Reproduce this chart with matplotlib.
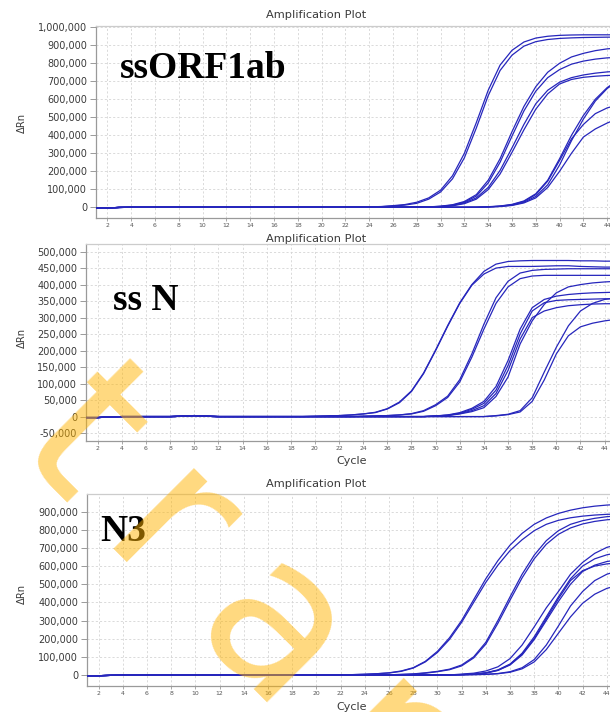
import matplotlib
matplotlib.use("Agg")
import matplotlib.pyplot as plt
from matplotlib.ticker import FuncFormatter
import numpy as np

# ---------------------------------------------------------------- data
# Delta Rn in thousands. Shared baseline for cycles 1-19, then each
# well's reading for cycles 20-45.
cycles = list(range(1, 46))

orf_baseline = [-5, -4, -1, 0, 0, 0, 0, 0, 0, 0, 0, 0, 0, 0, 0, 0, 0, 0, 0]
orf_wells = [
    [0, 0, 1, 1, 2, 4, 9, 15, 28, 52, 95, 175, 300, 470, 650, 790, 872, 918, 940, 950, 955, 957, 958, 958, 958, 958],
    [0, 0, 0, 1, 1, 3, 7, 12, 22, 45, 85, 158, 275, 440, 620, 760, 845, 895, 920, 932, 938, 941, 943, 944, 945, 945],
    [0, 0, 0, 0, 0, 0, 0, 1, 1, 2, 6, 14, 32, 70, 150, 270, 420, 560, 670, 750, 800, 835, 855, 870, 880, 885],
    [0, 0, 0, 0, 0, 0, 0, 0, 1, 2, 5, 12, 28, 62, 135, 250, 395, 535, 645, 720, 765, 795, 812, 823, 830, 833],
    [0, 0, 0, 0, 0, 0, 0, 0, 1, 2, 4, 10, 24, 52, 110, 205, 330, 460, 575, 650, 695, 720, 735, 745, 752, 756],
    [0, 0, 0, 0, 0, 0, 0, 0, 0, 1, 3, 8, 20, 45, 98, 185, 305, 430, 545, 630, 685, 710, 722, 728, 732, 734],
    [0, 0, 0, 0, 0, 0, 0, 0, 0, 0, 0, 0, 0, 1, 3, 7, 16, 35, 75, 150, 270, 400, 510, 600, 665, 710],
    [0, 0, 0, 0, 0, 0, 0, 0, 0, 0, 0, 0, 0, 0, 2, 5, 12, 28, 60, 125, 235, 370, 490, 590, 660, 705],
    [0, 0, 0, 0, 0, 0, 0, 0, 0, 0, 0, 0, 0, 0, 2, 6, 14, 32, 70, 145, 260, 380, 460, 520, 552, 570],
    [0, 0, 0, 0, 0, 0, 0, 0, 0, 0, 0, 0, 0, 0, 1, 4, 10, 24, 52, 110, 200, 300, 390, 435, 468, 495],
]

n_baseline = [-3, -3, -1, 0, 0, 0, 0, 0, 1, 3, 1, 0, 0, 0, 0, 0, 0, 0, 0]
n_wells = [
    [1, 2, 3, 5, 8, 13, 24, 44, 78, 132, 202, 276, 345, 400, 440, 462, 470, 472, 473, 473, 473, 473, 472, 472, 471, 471],
    [1, 2, 3, 5, 8, 12, 23, 42, 76, 130, 200, 274, 343, 398, 432, 450, 455, 455, 455, 456, 457, 457, 455, 454, 453, 453],
    [0, 0, 0, 0, 1, 2, 3, 5, 9, 18, 36, 62, 112, 190, 280, 360, 410, 435, 443, 446, 447, 448, 448, 448, 448, 448],
    [0, 0, 0, 0, 1, 2, 3, 5, 8, 16, 33, 58, 105, 180, 265, 343, 393, 418, 426, 428, 428, 428, 428, 428, 428, 428],
    [0, 0, 0, 0, 0, 0, 0, 0, 0, 0, 2, 5, 12, 25, 46, 91, 170, 265, 330, 355, 365, 370, 373, 375, 376, 377],
    [0, 0, 0, 0, 0, 0, 0, 0, 0, 0, 2, 4, 10, 22, 40, 80, 155, 250, 320, 345, 352, 354, 355, 356, 357, 357],
    [0, 0, 0, 0, 0, 0, 0, 0, 0, 0, 2, 4, 9, 18, 33, 70, 140, 235, 300, 320, 330, 336, 339, 341, 342, 342],
    [0, 0, 0, 0, 0, 0, 0, 0, 0, 0, 1, 3, 8, 15, 27, 61, 120, 220, 290, 340, 375, 393, 400, 405, 408, 410],
    [0, 0, 0, 0, 0, 0, 0, 0, 0, 0, 0, 0, 0, 0, 0, 3, 7, 18, 57, 135, 210, 275, 320, 343, 355, 360],
    [0, 0, 0, 0, 0, 0, 0, 0, 0, 0, 0, 0, 0, 0, 0, 2, 6, 14, 46, 111, 190, 245, 272, 283, 290, 295],
]

n3_baseline = [-4, -4, -2, -1, -1, -1, -1, -1, -1, -1, -1, -1, -1, -1, -1, -1, -1, -1, -1]
n3_wells = [
    [0, 0, 1, 2, 4, 7, 12, 22, 40, 75, 130, 205, 300, 415, 530, 630, 715, 780, 830, 865, 890, 908, 921, 930, 936, 940],
    [0, 0, 1, 2, 4, 7, 11, 20, 38, 72, 124, 196, 290, 400, 510, 605, 685, 745, 795, 830, 852, 866, 875, 881, 885, 887],
    [0, 0, 0, 0, 0, 0, 1, 3, 6, 12, 20, 32, 55, 100, 180, 300, 430, 555, 660, 740, 795, 830, 850, 863, 872, 877],
    [0, 0, 0, 0, 0, 0, 1, 3, 5, 10, 18, 29, 50, 94, 170, 285, 412, 535, 640, 720, 775, 810, 832, 846, 855, 860],
    [0, 0, 0, 0, 0, 0, 0, 0, 0, 0, 0, 0, 5, 10, 22, 45, 90, 165, 265, 370, 460, 555, 620, 670, 703, 720],
    [0, 0, 0, 0, 0, 0, 0, 0, 0, 0, 0, 0, 2, 5, 12, 28, 60, 120, 210, 320, 430, 530, 600, 640, 662, 675],
    [0, 0, 0, 0, 0, 0, 0, 0, 0, 0, 0, 0, 2, 4, 10, 25, 55, 110, 195, 300, 405, 500, 570, 605, 625, 635],
    [0, 0, 0, 0, 0, 0, 0, 0, 0, 0, 0, 0, 2, 5, 12, 26, 58, 115, 200, 310, 420, 520, 575, 600, 612, 618],
    [0, 0, 0, 0, 0, 0, 0, 0, 0, 0, 0, 0, 1, 2, 4, 8, 18, 40, 85, 165, 270, 380, 460, 520, 555, 575],
    [0, 0, 0, 0, 0, 0, 0, 0, 0, 0, 0, 0, 1, 2, 3, 7, 15, 34, 72, 140, 230, 320, 395, 445, 477, 495],
]

panel_labels = ["ssORF1ab", "ss N", "N3"]
plot_title = "Amplification Plot"
y_label = "\u0394Rn"
x_label = "Cycle"
watermark = "t\u2009r\u2009a\u2009n"

# ---------------------------------------------------------------- layout
W, H = 610, 712
fig = plt.figure(figsize=(W / 100, H / 100), dpi=100)
fig.patch.set_facecolor("white")


def box(left, top, right, bottom):
    return [left / W, 1 - bottom / H, (right - left) / W, (bottom - top) / H]


LINE = "#2626BC"
GRID = "#D4D4D4"
SPINE = "#9A9A9A"
TXT = "#3A3A3A"

panels = [
    dict(base=orf_baseline, wells=orf_wells, rect=box(95.5, 26, 95.5 + 44 * 11.9, 217.7),
         ylim=(-58000, 1007000), ystep=100000, ymax=1000000, ymin=0,
         title_y=15.5, ylab_y=123, xlab_y=None, lab_xy=(120, 78)),
    dict(base=n_baseline, wells=n_wells, rect=box(85.6, 244, 85.6 + 44 * 12.07, 441),
         ylim=(-74000, 523000), ystep=50000, ymax=500000, ymin=-50000,
         title_y=239, ylab_y=338, xlab_y=461.5, lab_xy=(113, 310)),
    dict(base=n3_baseline, wells=n3_wells, rect=box(86.5, 494, 86.5 + 44 * 12.1, 685.7),
         ylim=(-59000, 997000), ystep=100000, ymax=900000, ymin=0,
         title_y=484, ylab_y=594, xlab_y=706.5, lab_xy=(100, 541)),
]

comma = FuncFormatter(lambda v, _: f"{int(round(v)):,}")

for p in panels:
    ax = fig.add_axes(p["rect"])
    ax.set_facecolor("white")
    for well in p["wells"]:
        y = np.array(p["base"] + well, dtype=float) * 1000
        ax.plot(cycles, y, color=LINE, lw=0.9, solid_joinstyle="round", zorder=3)

    ax.set_xlim(1, 45)
    ax.set_ylim(*p["ylim"])
    ax.set_xticks(range(2, 46, 2))
    ax.set_yticks(np.arange(p["ymin"], p["ymax"] + 1, p["ystep"]))
    ax.yaxis.set_major_formatter(comma)
    ax.grid(True, color=GRID, lw=0.6, ls=(0, (2.5, 2.5)), zorder=0)

    for side in ("left", "bottom", "top"):
        ax.spines[side].set_color(SPINE)
        ax.spines[side].set_linewidth(0.9)
    ax.spines["top"].set_color("#CCCCCC")
    ax.spines["right"].set_visible(False)

    ax.tick_params(axis="y", length=4, width=0.7, color=SPINE, pad=2,
                   labelsize=7, labelcolor=TXT)
    ax.tick_params(axis="x", length=2, width=0.6, color=SPINE, pad=1.5,
                   labelsize=4.4, labelcolor="#555555")

    fig.text(316 / W, 1 - p["title_y"] / H, plot_title, ha="center", va="center",
             fontsize=8.2, color=TXT, family="DejaVu Sans")
    fig.text(22 / W, 1 - p["ylab_y"] / H, y_label, ha="center", va="center",
             rotation=90, fontsize=7.2, color=TXT, family="DejaVu Sans")
    if p["xlab_y"] is not None:
        fig.text(352 / W, 1 - p["xlab_y"] / H, x_label, ha="center", va="center",
                 fontsize=8, color=TXT, family="DejaVu Sans")

for p, name in zip(panels, panel_labels):
    lx, ly = p["lab_xy"]
    fig.text(lx / W, 1 - ly / H, name, ha="left", va="baseline",
             fontsize=27, fontweight="bold", family="Liberation Serif", color="black",
             zorder=5)

# watermark lettering across the lower left
fig.text(12 / W, 1 - 448 / H, watermark, ha="left", va="baseline",
         rotation=-45, rotation_mode="anchor", fontsize=150, fontweight="normal",
         family="DejaVu Sans", color="#FFB300", alpha=0.5, zorder=10)

fig.savefig("out.png", dpi=100, facecolor="white")
